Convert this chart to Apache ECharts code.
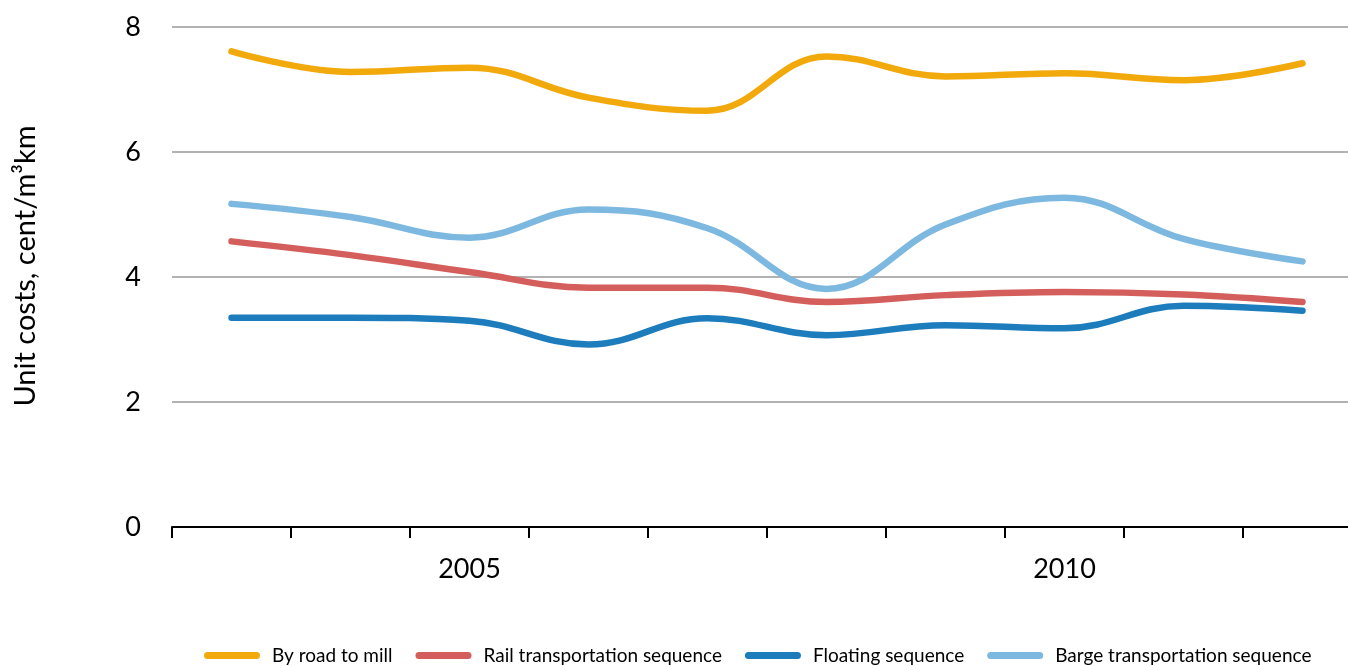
<!DOCTYPE html>
<html>
<head>
<meta charset="utf-8">
<script src="https://cdn.jsdelivr.net/npm/echarts@6/dist/echarts.min.js"></script>
<style>
  html, body { margin: 0; padding: 0; background: #fff; }
  #chart { width: 1348px; height: 666px; }
</style>
</head>
<body>
<div id="chart"></div>
<script>
// years along the x axis
const years = ['2003', '2004', '2005', '2006', '2007', '2008', '2009', '2010', '2011', '2012']
const shownYears = ['2005', '2010']

// unit costs, cent/m3km
const roadToMill = [7.61, 7.28, 7.35, 6.87, 6.66, 7.53, 7.21, 7.26, 7.15, 7.42]
const railSequence = [4.57, 4.35, 4.08, 3.83, 3.83, 3.6, 3.71, 3.76, 3.72, 3.6]
const floatingSequence = [3.35, 3.35, 3.3, 2.92, 3.34, 3.07, 3.23, 3.18, 3.54, 3.46]
const bargeSequence = [5.17, 4.96, 4.63, 5.08, 4.78, 3.81, 4.84, 5.27, 4.61, 4.25]

const yTicks = [0, 2, 4, 6, 8]

const font = 'Lato, "Open Sans", sans-serif'
const capsule = 'path://M3.5,0 H52.5 A3.5,3.5 0 0 1 52.5,7 H3.5 A3.5,3.5 0 0 1 3.5,0 Z'

function lineSeries(name, data, color) {
  return {
    name: name,
    type: 'line',
    data: data,
    smooth: 0.4,
    symbol: 'none',
    lineStyle: { color: color, width: 6.5, cap: 'round', join: 'round' },
    itemStyle: { color: color },
    animation: false
  }
}

const chart = echarts.init(document.getElementById('chart'))
chart.setOption({
  animation: false,
  grid: { left: 172, right: -14, top: 27, bottom: 139, outerBoundsMode: 'none', containLabel: false },
  legend: {
    bottom: -4,
    left: 199,
    icon: capsule,
    itemWidth: 56,
    itemHeight: 7,
    itemGap: 23,
    textStyle: { fontFamily: font, fontSize: 19, color: '#000', padding: [0, 0, 0, 7] },
    data: ['By road to mill', 'Rail transportation sequence', 'Floating sequence', 'Barge transportation sequence']
  },
  xAxis: {
    type: 'category',
    data: years,
    boundaryGap: true,
    axisLine: { lineStyle: { color: '#000', width: 2 } },
    axisTick: { show: true, interval: 0, length: 11, lineStyle: { color: '#000', width: 2 } },
    axisLabel: {
      interval: (i, v) => shownYears.includes(v),
      margin: 29,
      fontFamily: font,
      fontSize: 27,
      color: '#000'
    },
    splitLine: { show: false }
  },
  yAxis: {
    type: 'value',
    min: yTicks[0],
    max: yTicks[yTicks.length - 1],
    interval: 2,
    name: 'Unit costs, cent/m³km',
    nameLocation: 'middle',
    nameGap: 132,
    nameTextStyle: { fontFamily: font, fontSize: 29, color: '#000', padding: [0, 0, 0, 22] },
    axisLine: { show: false },
    axisTick: { show: false },
    axisLabel: { margin: 31, fontFamily: font, fontSize: 27, color: '#000' },
    splitLine: { lineStyle: { color: '#999', width: 1.5 } }
  },
  series: [
    lineSeries('By road to mill', roadToMill, '#F2A90C'),
    lineSeries('Rail transportation sequence', railSequence, '#D45E5B'),
    lineSeries('Floating sequence', floatingSequence, '#1C7CBC'),
    lineSeries('Barge transportation sequence', bargeSequence, '#7DB8E0')
  ]
})
</script>
</body>
</html>
